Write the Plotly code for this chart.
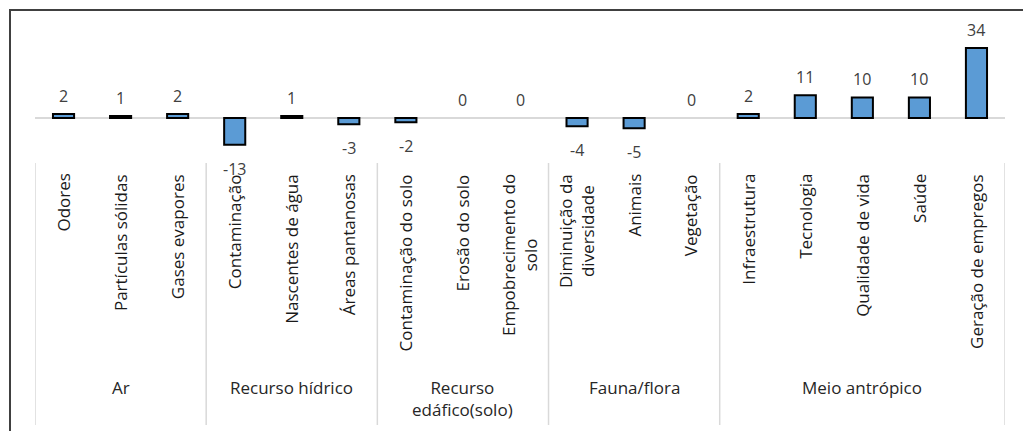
import plotly.graph_objects as go

categories = ["Odores", "Partículas sólidas", "Gases evapores", "Contaminação",
              "Nascentes de água", "Áreas pantanosas", "Contaminação do solo",
              "Erosão do solo", "Empobrecimento do<br>solo", "Diminuição da<br>diversidade",
              "Animais", "Vegetação", "Infraestrutura", "Tecnologia",
              "Qualidade de vida", "Saúde", "Geração de empregos"]
values = [2, 1, 2, -13, 1, -3, -2, 0, 0, -4, -5, 0, 2, 11, 10, 10, 34]
groups = ["Ar", "Recurso hídrico", "Recurso<br>edáfico(solo)", "Fauna/flora", "Meio antrópico"]
group_sizes = [3, 3, 3, 3, 5]

W, H = 1023, 431
FONT = "Open Sans"
xs = list(range(len(categories)))

fig = go.Figure()
fig.add_trace(go.Bar(
    x=xs, y=values, width=0.37,
    marker=dict(color="#5B9BD5",
                line=dict(color="#000000", width=[2 if v != 0 else 0 for v in values])),
    hoverinfo="skip", showlegend=False,
))

annotations = []
# data labels
for x, v in zip(xs, values):
    if v >= 0:
        annotations.append(dict(x=x, y=v, xref="x", yref="y", text=str(v),
                                showarrow=False, yanchor="bottom", yshift=5,
                                font=dict(family=FONT, size=16, color="#404040")))
    else:
        annotations.append(dict(x=x, y=v, xref="x", yref="y", text=str(v),
                                showarrow=False, yanchor="top", yshift=-11,
                                font=dict(family=FONT, size=16, color="#404040")))
# category labels
for x, c in zip(xs, categories):
    annotations.append(dict(x=x, y=1 - 172 / H, xref="x", yref="paper", text=c,
                            textangle=-90, showarrow=False, yanchor="top",
                            xanchor="center", align="center",
                            font=dict(family=FONT, size=17, color="#1a1a1a")))
# group labels and dividers
shapes = []
start = -0.5
shapes.append(dict(type="line", xref="x", yref="paper", x0=start, x1=start,
                   y0=1 - 425 / H, y1=1 - 163 / H,
                   line=dict(color="#D9D9D9", width=1.5)))
for g, n in zip(groups, group_sizes):
    end = start + n
    annotations.append(dict(x=(start + end) / 2, y=1 - 374 / H, xref="x", yref="paper",
                            text=g, showarrow=False, yanchor="top", xanchor="center",
                            align="center",
                            font=dict(family=FONT, size=17, color="#262626")))
    shapes.append(dict(type="line", xref="x", yref="paper", x0=end, x1=end,
                       y0=1 - 425 / H, y1=1 - 163 / H,
                       line=dict(color="#D9D9D9", width=1.5)))
    start = end

# outer frame (top and left visible)
shapes.append(dict(type="rect", xref="paper", yref="paper",
                   x0=10 / W, x1=1.05, y0=-0.05, y1=1 - 10 / H,
                   line=dict(color="#404040", width=2)))

fig.update_layout(
    width=W, height=H,
    margin=dict(l=0, r=0, t=0, b=0),
    paper_bgcolor="white", plot_bgcolor="white",
    xaxis=dict(domain=[35 / W, 1005 / W], range=[-0.5, 16.5], showticklabels=False,
               showgrid=False, zeroline=False, showline=False, ticks=""),
    yaxis=dict(domain=[1 - 165 / H, 1 - 30 / H], range=[-22.8, 42.7],
               showticklabels=False, showgrid=False, zeroline=True,
               zerolinecolor="#D9D9D9", zerolinewidth=1.5, showline=False, ticks=""),
    annotations=annotations, shapes=shapes,
    bargap=0.63,
)

fig.write_html("out.html")
